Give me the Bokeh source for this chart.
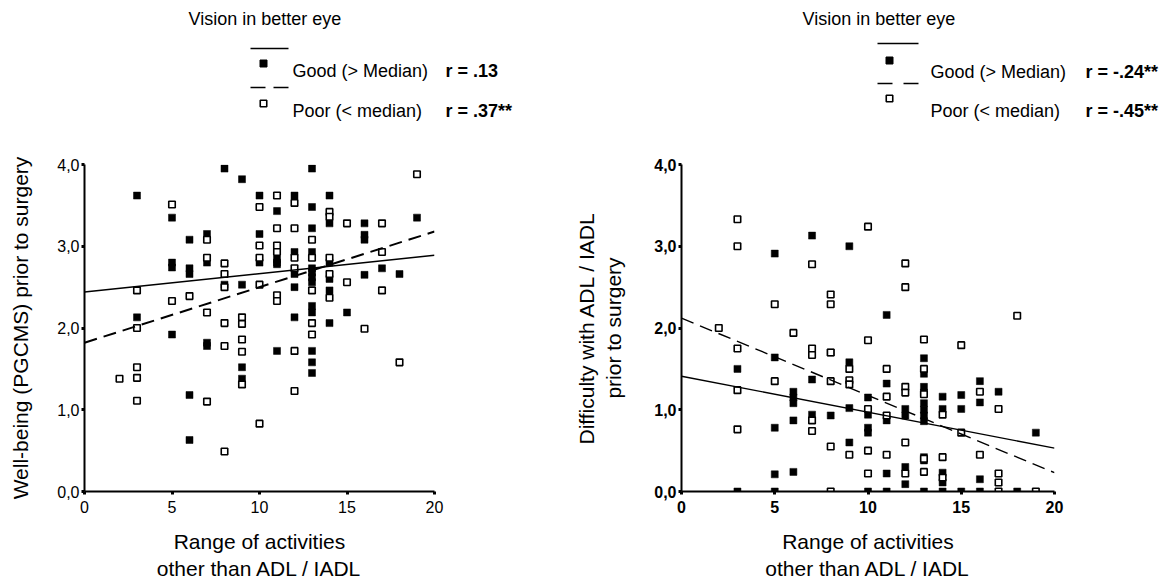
from bokeh.plotting import figure
from bokeh.layouts import column, row
from bokeh.models import Range1d, FixedTicker
from bokeh.core.properties import value
from bokeh.embed import file_html
from bokeh.resources import INLINE

FONT = "Liberation Sans"

# ---------------- data ----------------
# Left panel: well-being (PGCMS) vs range of activities
left_good = {
    3: [3.62, 2.13],
    5: [3.35, 2.80, 2.74, 1.92],
    6: [3.08, 2.73, 2.66, 1.18, 0.63],
    7: [3.15, 2.80, 1.82, 1.78],
    8: [3.95, 2.53],
    9: [3.82, 2.53, 1.52, 1.38],
    10: [3.62, 3.15, 2.80],
    11: [3.43, 2.84, 2.80, 2.78, 1.72],
    12: [3.62, 2.93, 2.66, 2.50, 2.13],
    13: [3.95, 3.48, 3.22, 2.93, 2.73, 2.68, 2.62, 2.56, 2.27, 2.19, 1.72, 1.58, 1.45],
    14: [3.62, 3.28, 2.80, 2.60, 2.46, 2.06],
    15: [2.19],
    16: [3.28, 3.14, 3.08, 2.65],
    17: [2.73],
    18: [2.66],
    19: [3.35],
}
left_poor = {
    2: [1.38],
    3: [2.46, 2.00, 1.52, 1.39, 1.11],
    5: [3.51, 2.33],
    6: [2.39],
    7: [3.08, 2.86, 2.19, 1.10],
    8: [2.79, 2.66, 2.50, 2.06, 1.78, 0.49],
    9: [2.13, 2.05, 1.86, 1.71, 1.31],
    10: [3.48, 3.01, 2.86, 2.53, 0.83],
    11: [3.62, 3.22, 3.01, 2.93, 2.40, 2.33],
    12: [3.53, 3.22, 2.86, 2.73, 1.72, 1.23],
    13: [3.08, 2.86, 2.46, 2.06, 1.92],
    14: [3.42, 3.36, 2.86, 2.66, 2.37],
    15: [3.28, 2.56],
    16: [1.99],
    17: [3.28, 2.93, 2.46],
    18: [1.58],
    19: [3.88],
}
# Right panel: difficulty with ADL / IADL vs range of activities
right_good = {
    3: [1.50, 0.0],
    5: [2.91, 1.64, 0.78, 0.21, 0.0],
    6: [1.22, 1.15, 1.08, 0.87, 0.24],
    7: [3.13, 1.37, 0.94],
    8: [1.70, 0.93],
    9: [3.00, 1.58, 1.02, 0.60],
    10: [1.15, 0.94, 0.78, 0.72, 0.0],
    11: [2.16, 1.32, 0.87, 0.22, 0.0],
    12: [1.01, 0.93, 0.30, 0.09],
    13: [1.63, 1.44, 1.28, 1.21, 1.08, 1.00, 0.93, 0.86, 0.42, 0.38, 0.0],
    14: [1.16, 1.01, 0.23, 0.11, 0.0],
    15: [1.18, 1.01, 0.0],
    16: [1.35, 1.09, 0.15, 0.0],
    17: [1.22],
    18: [0.0],
    19: [0.72],
}
right_poor = {
    2: [2.00],
    3: [3.33, 3.00, 1.75, 1.24, 0.76],
    5: [2.29, 1.35],
    6: [1.94],
    7: [2.78, 1.75, 1.67, 0.87, 0.74],
    8: [2.41, 2.29, 1.70, 1.35, 0.55, 0.0],
    9: [1.50, 1.36, 1.31, 0.45],
    10: [3.24, 1.85, 1.01, 0.50, 0.22],
    11: [1.50, 1.16, 0.93, 0.45],
    12: [2.79, 2.50, 1.28, 1.21, 0.60, 0.22],
    13: [1.86, 1.50, 1.19, 0.40, 0.24],
    14: [0.94, 0.42, 0.17],
    15: [1.79, 0.72],
    16: [1.22, 0.45],
    17: [1.01, 0.22, 0.11, 0.0],
    18: [2.15],
    19: [0.0],
}
# regression lines: value at x = 0 and x = 20
fit_x = [0, 20]
left_good_fit = [2.44, 2.89]
left_poor_fit = [1.82, 3.18]
right_good_fit = [1.41, 0.53]
right_poor_fit = [2.12, 0.23]

x_ticks = [0, 5, 10, 15, 20]
y_ticks = [0, 1, 2, 3, 4]
y_tick_labels = ["0,0", "1,0", "2,0", "3,0", "4,0"]

legend_title = "Vision in better eye"
legend_good = "Good (> Median)"
legend_poor = "Poor  (< median)"
left_r = ["r = .13", "r = .37**"]
right_r = ["r = -.24**", "r = -.45**"]


def flatten(d):
    xs, ys = [], []
    for k, vals in d.items():
        for v in vals:
            xs.append(k)
            ys.append(v)
    return xs, ys


def style_axes(p, bold_ticks=False):
    p.grid.visible = False
    p.outline_line_color = None
    p.background_fill_color = "white"
    p.border_fill_color = "white"
    for ax in (p.xaxis[0], p.yaxis[0]):
        ax.axis_line_width = 2
        ax.axis_line_color = "black"
        ax.major_tick_in = 0
        ax.major_tick_out = 3
        ax.major_tick_line_width = 3
        ax.minor_tick_line_color = None
        ax.major_label_text_font = FONT
        ax.major_label_text_font_size = "16px"
        ax.major_label_text_color = "black"
        ax.major_label_text_font_style = "bold" if bold_ticks else "normal"
        ax.axis_label_text_font = FONT
        ax.axis_label_text_font_size = "21px"
        ax.axis_label_text_font_style = "normal"
        ax.axis_label_text_color = "black"
    p.xaxis.ticker = FixedTicker(ticks=x_ticks)
    p.yaxis.ticker = FixedTicker(ticks=y_ticks)
    p.yaxis.major_label_overrides = {t: s for t, s in zip(y_ticks, y_tick_labels)}
    p.xaxis.major_label_standoff = 6
    p.yaxis.major_label_standoff = 2


def draw_points(p, good, poor):
    gx, gy = flatten(good)
    px, py = flatten(poor)
    p.scatter(gx, gy, marker="square", size=7, fill_color="black", line_color="black", line_width=0.5)
    p.scatter(px, py, marker="square", size=6.5, fill_color="white", line_color="black", line_width=1.6)


# ---------------- legend strip ----------------
leg = figure(width=1174, height=140, x_range=Range1d(0, 1174), y_range=Range1d(140, 0),
             x_axis_type=None, y_axis_type=None, output_backend="svg", toolbar_location=None,
             min_border=0, min_border_left=0, min_border_right=0, min_border_top=0, min_border_bottom=0)
leg.grid.visible = False
leg.outline_line_color = None

for (title_x, sq_x, line_x0, line_x1, txt_x, r_x, ys, rs, dash) in [
    (188, 263, 250, 288, 292, 445, (48, 63, 87, 103, 70, 110), left_r, "15 8"),
    (802, 889, 877, 918, 930, 1085, (43, 60, 83, 98, 71, 110), right_r, "15 11"),
]:
    y_solid, y_fill, y_dash, y_open, y_t1, y_t2 = ys
    leg.text(x=[title_x], y=[18], text=[legend_title], text_font=value(FONT), text_font_size="18px",
             text_baseline="middle", text_align="left", text_color="black")
    leg.text(x=[txt_x, txt_x], y=[y_t1, y_t2], text=[legend_good, legend_poor], text_font=value(FONT),
             text_font_size="18px", text_baseline="middle", text_align="left", text_color="black")
    leg.text(x=[r_x, r_x], y=[y_t1, y_t2], text=rs, text_font=value(FONT), text_font_style="bold",
             text_font_size="18px", text_baseline="middle", text_align="left", text_color="black")
    leg.line([line_x0, line_x1], [y_solid, y_solid], line_color="black", line_width=1.5)
    leg.line([line_x0, line_x1], [y_dash, y_dash], line_color="black", line_width=1.5, line_dash=dash)
    leg.scatter([sq_x], [y_fill], marker="square", size=7, fill_color="black", line_color="black")
    leg.scatter([sq_x], [y_open], marker="square", size=6.5, fill_color="white", line_color="black",
                line_width=1.6)

# ---------------- left panel ----------------
p1 = figure(width=560, height=443, x_range=Range1d(0, 20), y_range=Range1d(0, 4),
            output_backend="svg", toolbar_location=None,
            min_border_left=84, min_border_right=126, min_border_top=17, min_border_bottom=91)
style_axes(p1)
p1.xaxis.axis_label = "Range of activities\nother than ADL / IADL"
p1.yaxis.axis_label = "Well-being (PGCMS) prior to surgery"
p1.yaxis.axis_label_standoff = 22
p1.xaxis.axis_label_standoff = 14
draw_points(p1, left_good, left_poor)
p1.line(fit_x, left_good_fit, line_color="black", line_width=1.6)
p1.line(fit_x, left_poor_fit, line_color="black", line_width=2, line_dash="13 7")

# ---------------- right panel ----------------
p2 = figure(width=614, height=443, x_range=Range1d(0, 20), y_range=Range1d(0, 4),
            output_backend="svg", toolbar_location=None,
            min_border_left=121, min_border_right=120, min_border_top=24, min_border_bottom=91)
style_axes(p2, bold_ticks=True)
p2.xaxis.axis_label = "Range of activities\nother than ADL / IADL"
p2.yaxis.axis_label = "Difficulty with ADL / IADL\nprior to surgery"
p2.yaxis.axis_label_standoff = 26
p2.xaxis.axis_label_standoff = 14
draw_points(p2, right_good, right_poor)
p2.line(fit_x, right_good_fit, line_color="black", line_width=1.4)
p2.line(fit_x, right_poor_fit, line_color="black", line_width=1.4, line_dash="13 7")

layout = column(leg, row(p1, p2))
open("out.html", "w").write(file_html(layout, INLINE))
